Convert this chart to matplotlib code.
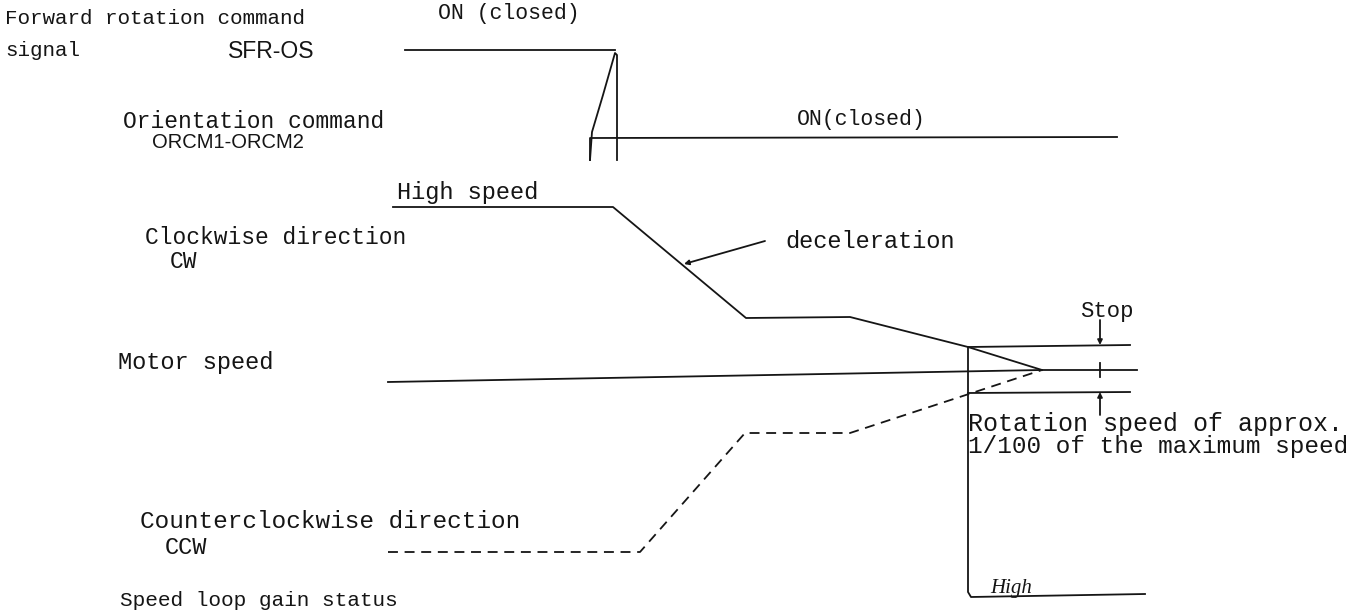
import matplotlib

matplotlib.use("Agg")
import matplotlib.pyplot as plt

# timing-diagram traces, in drawing units (x = time, y = level, downwards)
sfr_t = [405, 615]
sfr_y = [50, 50]
sfr_edge_t = [590, 592, 603, 615, 617, 617]
sfr_edge_y = [160, 132, 95, 53, 55, 160]

orcm_t = [590, 590, 1117]
orcm_y = [160, 138, 137]

cw_t = [393, 613, 746, 850, 968, 1042]
cw_y = [207, 207, 318, 317, 347, 370]

zero_t = [388, 1042, 1137]
zero_y = [382, 370, 370]

ccw_t = [388, 640, 745, 850, 1042]
ccw_y = [552, 552, 433, 433, 370]

band_top_t = [968, 1130]
band_top_y = [347, 345]
band_bot_t = [968, 1130]
band_bot_y = [393, 392]

gain_t = [968, 968, 971, 1145]
gain_y = [347, 592, 597, 594]

stop_t = 1100
stop_top = [320, 345]
stop_mid = [363, 377]
stop_bot = [415, 392]

# labels: text, x, y, font size, family
labels = [
    ("Forward rotation command", 5, 18, 15, "mono"),
    ("signal", 5, 50, 15, "mono"),
    ("SFR-OS", 228, 51, 16.5, "narrow"),
    ("ON (closed)", 438, 13, 15.5, "mono"),
    ("Orientation command", 123, 122, 16.5, "mono"),
    ("ORCM1-ORCM2", 152, 143, 14.5, "narrow"),
    ("ON(closed)", 797, 120, 15.5, "mono"),
    ("High speed", 397, 192, 17, "mono"),
    ("Clockwise direction", 145, 237, 16.5, "mono"),
    ("CW", 170, 262, 16.5, "mono"),
    ("deceleration", 785, 242, 17, "mono"),
    ("Stop", 1080, 312, 16, "mono"),
    ("Motor speed", 118, 362, 17, "mono"),
    ("Rotation speed of approx.", 968, 424, 18, "mono"),
    ("1/100 of the maximum speed", 968, 447, 17.6, "mono"),
    ("Counterclockwise direction", 140, 522, 17.6, "mono"),
    ("CCW", 165, 547, 17, "mono"),
    ("High", 990, 589, 15, "serif"),
    ("Speed loop gain status", 120, 600, 15.2, "mono"),
]

families = {
    "mono": ["Liberation Mono", "DejaVu Sans Mono"],
    "narrow": ["Liberation Sans Narrow", "Liberation Sans", "DejaVu Sans"],
    "serif": ["Liberation Serif", "DejaVu Serif"],
}

ink = "#151515"
lw = 1.3

fig = plt.figure(figsize=(13.54, 6.11), dpi=100)
ax = fig.add_axes([0, 0, 1, 1])
ax.set_xlim(0, 1354)
ax.set_ylim(611, 0)
ax.axis("off")

ax.plot(sfr_t, sfr_y, color=ink, lw=lw)
ax.plot(sfr_edge_t, sfr_edge_y, color=ink, lw=lw)
ax.plot(orcm_t, orcm_y, color=ink, lw=lw)
ax.plot(cw_t, cw_y, color=ink, lw=lw)
ax.plot(zero_t, zero_y, color=ink, lw=lw)
ax.plot(ccw_t, ccw_y, color=ink, lw=lw, dashes=(5.5, 3.7))
ax.plot(band_top_t, band_top_y, color=ink, lw=lw)
ax.plot(band_bot_t, band_bot_y, color=ink, lw=lw)
ax.plot(gain_t, gain_y, color=ink, lw=lw)

arrow = dict(arrowstyle="-|>", color=ink, lw=lw, mutation_scale=7, shrinkA=0, shrinkB=0)
ax.annotate("", xy=(stop_t, stop_top[1]), xytext=(stop_t, stop_top[0]), arrowprops=arrow)
ax.annotate("", xy=(stop_t, stop_bot[1]), xytext=(stop_t, stop_bot[0]), arrowprops=arrow)
ax.plot([stop_t, stop_t], stop_mid, color=ink, lw=lw)
ax.annotate("", xy=(684, 264), xytext=(765, 241), arrowprops=arrow)

for text, x, y, size, fam in labels:
    ax.text(x, y, text, fontsize=size, family=families[fam], color=ink,
            ha="left", va="center",
            style="italic" if fam == "serif" else "normal")

fig.savefig("out.png", dpi=100, facecolor="white")
